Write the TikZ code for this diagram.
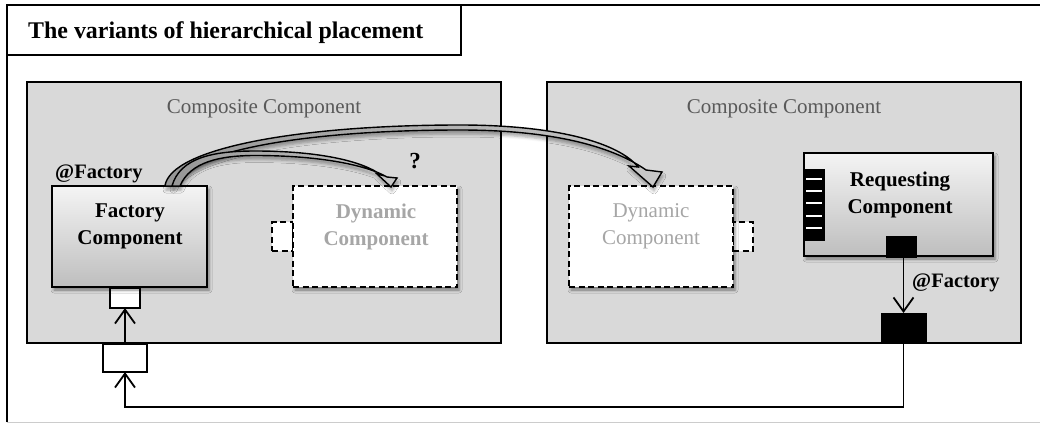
\documentclass[tikz,border=0pt]{standalone}
\usepackage{fontspec}
\setmainfont{Liberation Serif}
\usetikzlibrary{arrows.meta,shadows.blur}
\definecolor{compfill}{RGB}{217,217,217}
\definecolor{comptext}{RGB}{89,89,89}
\definecolor{dyntext}{RGB}{166,166,166}
\definecolor{gradtop}{RGB}{244,244,244}
\definecolor{gradbot}{RGB}{190,190,190}
\definecolor{bandgray}{RGB}{150,150,150}
\definecolor{bandlight}{RGB}{200,200,200}
\tikzset{
  base/.style={inner sep=0pt, outer sep=0pt},
  composite/.style={base, draw=black, line width=2pt, fill=compfill},
  softshadow/.style={blur shadow={shadow xshift=2pt, shadow yshift=-3pt, shadow blur radius=3pt, shadow opacity=45}},
  compbox/.style={base, draw=black, line width=1.6pt, top color=gradtop, bottom color=gradbot, softshadow},
  dynbox/.style={base, draw=black, line width=1.5pt, fill=white, dash pattern=on 6pt off 3.5pt, softshadow},
  dynport/.style={base, draw=black, line width=1.5pt, fill=white, dash pattern=on 6pt off 3.5pt},
  whiteport/.style={base, draw=black, line width=1.2pt, fill=white},
  blackport/.style={base, draw=black, line width=1pt, fill=black},
  lbl/.style={inner sep=0pt, font=\fontsize{21}{27}\selectfont, align=center},
  blbl/.style={lbl, font=\fontsize{21}{27}\selectfont\bfseries},
  conn/.style={line width=1.8pt, -{Straight Barb[length=14pt,width=20pt,line width=1.8pt]}},
  wire/.style={line width=1.4pt},
  band/.style={draw=black, line width=1.4pt, left color=bandgray, right color=bandlight, line join=miter},
  bandshadow/.style={blur shadow={shadow xshift=1pt, shadow yshift=-4pt, shadow blur radius=3pt, shadow opacity=35}},
}
\begin{document}
\begin{tikzpicture}[x=1pt,y=-1pt]
\useasboundingbox (0,0) rectangle (1040,423);

% outer frame
\draw[line width=1.8pt] (7,422) -- (7,5) -- (1041,5);
\draw[line width=1pt, black!20] (7,422) -- (1041,422);

% title tab
\node[base, draw=black, line width=1.4pt, fill=white, minimum width=454, minimum height=50] (titlebox) at (234,30) {};
\node[lbl, font=\fontsize{23.9}{27}\selectfont\bfseries, anchor=base west] (title) at (28,38) {The variants of hierarchical placement};

% composite containers
\node[composite, minimum width=474, minimum height=261] (compL) at (264,212.5) {};
\node[composite, minimum width=474, minimum height=261] (compR) at (784,212.5) {};
\node[lbl, text=comptext, anchor=base] (compLtxt) at (264,113) {Composite Component};
\node[lbl, text=comptext, anchor=base] (compRtxt) at (784,113) {Composite Component};

% factory component with its ports
\node[whiteport, minimum width=30, minimum height=20] (facport) at (125,298) {};
\node[compbox, minimum width=155, minimum height=101] (factory) at (129.5,236.5) {};
\node[blbl, anchor=base] (factxt) at (130,244) {Factory\\Component};
\node[blbl, font=\fontsize{20.5}{24}\selectfont\bfseries, anchor=base west] (facann) at (55,178) {@Factory};
\node[whiteport, minimum width=44, minimum height=28] (extport) at (125,358) {};

% dynamic component, left container
\node[dynport, minimum width=21, minimum height=29] (dynLport) at (282.5,236.5) {};
\node[dynbox, minimum width=164, minimum height=101] (dynL) at (375,236.5) {};
\node[blbl, text=dyntext, anchor=base] (dynLtxt) at (376,245) {Dynamic\\Component};
\node[blbl, font=\fontsize{23}{27}\selectfont\bfseries, anchor=base] (qmark) at (415,168) {?};

% dynamic component, right container
\node[dynport, minimum width=20, minimum height=29] (dynRport) at (743,236.5) {};
\node[dynbox, minimum width=164, minimum height=101] (dynR) at (651,236.5) {};
\node[lbl, text=dyntext, anchor=base] (dynRtxt) at (651,244) {Dynamic\\Component};

% requesting component with its ports
\node[compbox, minimum width=189, minimum height=103] (req) at (898.5,204.5) {};
\node[blbl, anchor=base] (reqtxt) at (900,213) {Requesting\\Component};
\node[blackport, minimum width=20, minimum height=71] (reqstrip) at (814,204.5) {};
\foreach \yy in {179,191,203,216,228}
  \draw[white, line width=1.3pt] (806,\yy) -- (822,\yy);
\node[blackport, minimum width=30, minimum height=21] (reqport) at (901,246.5) {};
\node[blackport, minimum width=45, minimum height=30] (fport) at (903.5,328) {};
\node[blbl, font=\fontsize{20.5}{24}\selectfont\bfseries, anchor=base west] (reqann) at (912,287) {@Factory};

% connectors
\draw[conn] (reqport.south -| fport.north) -- (fport.north);
\draw[conn] (extport.north) -- (facport.south);
\draw[wire] (fport.south) -- ++(0,64) coordinate (turn);
\draw[conn, line width=1.4pt] (turn) -| (extport.south);

% curved block arrows from the factory
\path[band, bandshadow]
  (165,186) .. controls (170,148) and (300,125) .. (460,125)
  .. controls (560,125) and (620,144) .. (638,167)
  -- (629,166) -- (653,187) -- (662,172) -- (646,170)
  .. controls (616,149) and (560,130) .. (460,130)
  .. controls (310,130) and (186,150) .. (173,186) -- cycle;
\path[band, bandshadow]
  (172,186) .. controls (180,158) and (212,151) .. (255,151)
  .. controls (322,151) and (364,162) .. (381,175)
  -- (377,174) -- (391,187) -- (397,178) -- (387,177)
  .. controls (366,165) and (320,155.5) .. (255,155.5)
  .. controls (220,155.5) and (190,162) .. (180,186) -- cycle;
\end{tikzpicture}
\end{document}
